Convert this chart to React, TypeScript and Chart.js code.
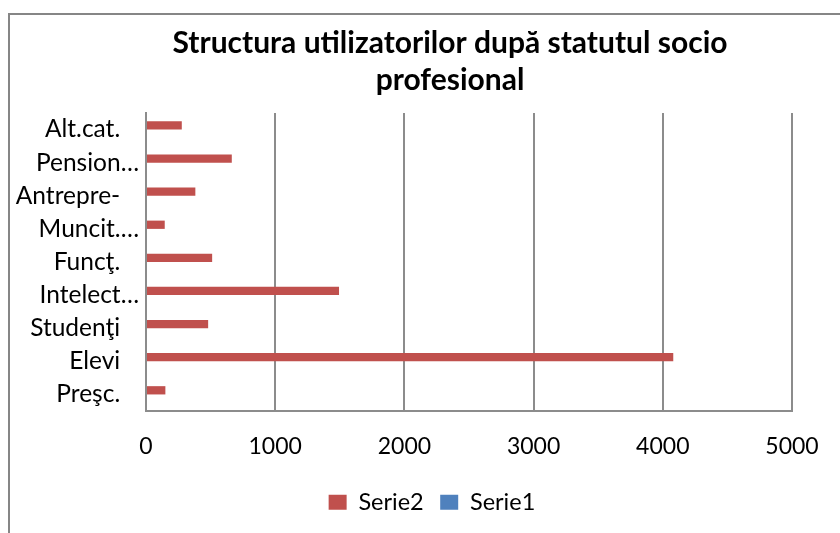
import React, { useEffect, useRef } from "react";
import { Chart, registerables } from "chart.js";

Chart.register(...registerables);

const categories = ["Alt.cat.", "Pension…", "Antrepre-", "Muncit.…", "Funcţ.", "Intelect…", "Studenţi", "Elevi", "Preşc."];
const serie2 = [277, 664, 382, 145, 512, 1494, 481, 4081, 150];
const serie1 = [0, 0, 0, 0, 0, 0, 0, 0, 0];
const seriesNames = ["Serie2", "Serie1"];
const xMin = 0;
const xMax = 5000;
const xStep = 1000;
const titleLines = ["Structura utilizatorilor după statutul socio", "profesional"];

const FONT = "Lato, 'Open Sans', sans-serif";
const GRID = "#8c8c8c";
const CANVAS_W = 900;
const CANVAS_H = 533;

const borderPlugin = {
  id: "outerBorder",
  beforeDraw(chart: any) {
    const ctx = chart.ctx;
    ctx.save();
    ctx.strokeStyle = "#868686";
    ctx.lineWidth = 2;
    ctx.beginPath();
    ctx.moveTo(9, CANVAS_H);
    ctx.lineTo(9, 14);
    ctx.lineTo(CANVAS_W, 14);
    ctx.stroke();
    ctx.restore();
  },
};

export default function App() {
  const ref = useRef<HTMLCanvasElement>(null);
  useEffect(() => {
    if (!ref.current) return;
    const chart = new Chart(ref.current, {
      type: "bar",
      data: {
        labels: categories,
        datasets: [
          {
            label: seriesNames[0],
            data: serie2,
            backgroundColor: "#C0504D",
            borderWidth: 0,
            categoryPercentage: 0.5,
            barPercentage: 1,
            xAxisID: "x",
            yAxisID: "y",
          },
          {
            label: seriesNames[1],
            data: serie1,
            backgroundColor: "#4F81BD",
            borderWidth: 0,
            categoryPercentage: 0.5,
            barPercentage: 1,
            xAxisID: "x",
            yAxisID: "y",
          },
        ],
      },
      options: {
        indexAxis: "y",
        responsive: false,
        animation: false,
        layout: { padding: { left: 0, right: 0, top: 0, bottom: 9 } },
        scales: {
          x: {
            min: xMin,
            max: xMax,
            ticks: {
              stepSize: xStep,
              color: "#000",
              padding: 21.5,
              font: { family: FONT, size: 23, lineHeight: 1.2 },
              callback(value: any) {
                return String(value);
              },
            },
            grid: { color: GRID, lineWidth: 2, drawTicks: false },
            border: { color: GRID, width: 2 },
            afterFit(scale: any) {
              scale.height = 63;
            },
          },
          y: {
            ticks: {
              color: "#000",
              padding: 7,
              autoSkip: false,
              font: { family: FONT, size: 24.5 },
              callback(value: any) {
                const s = categories[value as number];
                return s.endsWith("…") ? s : s + "   ";
              },
            },
            grid: { display: false, drawTicks: false },
            border: { color: GRID, width: 2 },
            afterFit(scale: any) {
              scale.width = 146;
            },
          },
          yRightSpace: {
            type: "linear",
            axis: "y",
            position: "right",
            display: true,
            ticks: { display: false },
            grid: { display: false, drawTicks: false },
            border: { display: false },
            afterFit(scale: any) {
              scale.width = CANVAS_W - 792;
            },
          },
        },
        plugins: {
          title: {
            display: true,
            text: titleLines,
            color: "#000",
            font: { family: FONT, size: 30, weight: "bold", lineHeight: "37px" },
            padding: { top: 24.5, bottom: 14.5 },
          },
          legend: {
            position: "bottom",
            labels: {
              color: "#000",
              boxWidth: 18,
              boxHeight: 15,
              padding: 16.5,
              font: { family: FONT, size: 23.5 },
              generateLabels(c: any) {
                const items = Chart.defaults.plugins.legend.labels.generateLabels(c);
                items.forEach((it: any) => {
                  it.lineWidth = 0;
                  it.strokeStyle = "rgba(0,0,0,0)";
                });
                if (items.length) items[items.length - 1].text += "      ";
                return items;
              },
            },
          },
          tooltip: { enabled: false },
        },
      },
      plugins: [borderPlugin],
    });
    return () => chart.destroy();
  }, []);
  return (
    <div style={{ position: "absolute", left: 0, top: 0, width: 840, height: 533, overflow: "hidden", background: "#fff" }}>
      <canvas ref={ref} width={CANVAS_W} height={CANVAS_H} style={{ display: "block" }} />
    </div>
  );
}
